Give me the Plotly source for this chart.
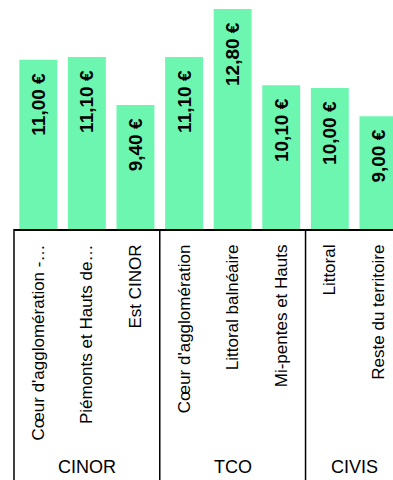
import plotly.graph_objects as go

# data
groups = ["CINOR", "CINOR", "CINOR", "TCO", "TCO", "TCO", "CIVIS", "CIVIS"]
categories = [
    "Cœur d'agglomération -…",
    "Piémonts et Hauts de…",
    "Est CINOR",
    "Cœur d'agglomération",
    "Littoral balnéaire",
    "Mi-pentes et Hauts",
    "Littoral",
    "Reste du territoire",
]
values = [11.00, 11.10, 9.40, 11.10, 12.80, 10.10, 10.00, 9.00]

font_family = "Liberation Sans, Arial, sans-serif"
bar_color = "#6cf6b0"

fig = go.Figure()

fig.add_trace(go.Bar(
    x=categories,
    y=values,
    marker=dict(color=bar_color, line=dict(width=0)),
    texttemplate="%{y:.2f}\u00a0€\u00a0\u00a0",
    textposition="inside",
    insidetextanchor="end",
    textangle=-90,
    textfont=dict(family=font_family, size=19, color="black", weight="bold"),
    hoverinfo="skip",
))

# group separators and labels below the axis
group_names = []
for g in groups:
    if g not in group_names:
        group_names.append(g)

shapes = []
annotations = []
start = 0
for gname in group_names:
    n = groups.count(gname)
    end = start + n
    if end < len(groups):
        shapes.append(dict(type="line", xref="x", yref="paper",
                           x0=end - 0.5, x1=end - 0.5, y0=0, y1=-1.2,
                           line=dict(color="black", width=1.5)))
    annotations.append(dict(x=(start + end - 1) / 2, y=-1.04,
                            xref="x", yref="paper", text=gname,
                            showarrow=False, xanchor="center", yanchor="middle",
                            font=dict(family=font_family, size=18, color="black")))
    start = end

# left border of the label box
shapes.append(dict(type="line", xref="paper", yref="paper",
                   x0=0, x1=0, y0=0, y1=-1.2,
                   line=dict(color="black", width=1.5)))

fig.update_layout(
    width=393,
    height=480,
    margin=dict(l=14, r=0, t=0, b=251),
    paper_bgcolor="white",
    plot_bgcolor="white",
    showlegend=False,
    bargap=0.22,
    separators=", ",
    shapes=shapes,
    annotations=annotations,
    xaxis=dict(
        type="category",
        range=[-0.5, 7.3],
        tickangle=-90,
        tickfont=dict(family=font_family, size=17, color="black"),
        showline=True,
        linecolor="black",
        linewidth=1.5,
        ticks="",
        ticklabelstandoff=7,
        automargin=False,
        showgrid=False,
        zeroline=False,
    ),
    yaxis=dict(
        range=[5, 13.12],
        visible=False,
        showgrid=False,
        zeroline=False,
    ),
)

# page body has a default 8px margin; remove it so the figure sits at the corner
fig.write_html("out.html", config={"displayModeBar": False},
               post_script="document.body.style.margin='0';")
